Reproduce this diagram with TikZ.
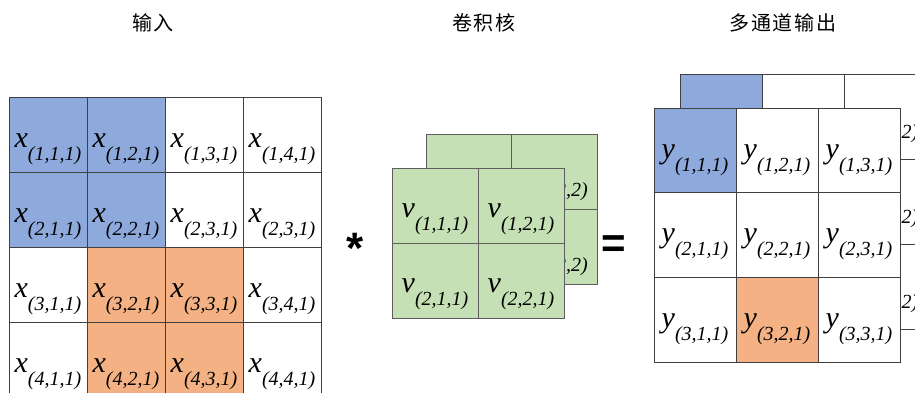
\documentclass[tikz,border=0pt]{standalone}
\usepackage{fontspec}
\setmainfont{Liberation Serif}
\newfontfamily\cjk[LetterSpace=8]{Noto Sans CJK SC}
\newfontfamily\opfont{Liberation Sans}
\definecolor{cblue}{HTML}{8EA9DB}
\definecolor{corange}{HTML}{F4B183}
\definecolor{cgreen}{HTML}{C5E0B4}
\definecolor{cline}{HTML}{404040}
\newcommand\cellt[2]{{\fontsize{30}{30}\selectfont\itshape #1\raisebox{-13pt}{\fontsize{20}{20}\selectfont (#2)}}}
\tikzset{
  gridcell/.style={draw=cline, line width=0.9pt, inner sep=0pt, outer sep=0pt, fill=white},
  incell/.style={gridcell, minimum width=78pt, minimum height=75pt},
  kcell/.style={gridcell, minimum width=86pt, minimum height=75pt, fill=cgreen, draw=cline!85},
  ocell/.style={gridcell, minimum width=82pt, minimum height=85pt},
  lbl/.style={anchor=base, inner sep=0pt},
  title/.style={font=\cjk\fontsize{20}{20}\selectfont, inner sep=0pt},
  op/.style={inner sep=0pt, anchor=base, font=\opfont\bfseries}
}
\begin{document}
\begin{tikzpicture}[x=1pt,y=-1pt]
\useasboundingbox (0,0) rectangle (915,392);
% titles
\node[title] (t1) at (153,23) {输入};
\node[title] (t2) at (484,23) {卷积核};
\node[title] (t3) at (783,23) {多通道输出};
% input grid
\foreach \r in {1,...,4}{
  \foreach \c in {1,...,4}{
    \pgfmathtruncatemacro\cc{(\r==2 && \c==4) ? 3 : \c}
    \def\fc{white}
    \ifnum\r<3 \ifnum\c<3 \def\fc{cblue}\fi\fi
    \ifnum\r>2 \ifnum\c>1 \ifnum\c<4 \def\fc{corange}\fi\fi\fi
    \node[incell, fill=\fc] (in-\r-\c) at ({48+78*(\c-1)},{134.5+75*(\r-1)}) {};
    \node[lbl] (in-\r-\c-t) at ([yshift=-50pt]in-\r-\c.north) {\cellt{x}{\r,\cc,1}};
  }
}
% kernel back
\foreach \r in {1,2}{
  \foreach \c in {1,2}{
    \node[kcell] (kb-\r-\c) at ({469+85.5*(\c-1)},{171.5+75*(\r-1)}) {};
    \node[lbl] (kb-\r-\c-t) at ([yshift=-49pt]kb-\r-\c.north) {\cellt{v}{\r,\c,2}};
  }
}
% kernel front
\foreach \r in {1,2}{
  \foreach \c in {1,2}{
    \node[kcell] (kf-\r-\c) at ({435+86*(\c-1)},{205.5+75*(\r-1)}) {};
    \node[lbl] (kf-\r-\c-t) at ([yshift=-49pt]kf-\r-\c.north) {\cellt{v}{\r,\c,1}};
  }
}
% output back
\foreach \r in {1,...,3}{
  \foreach \c in {1,...,3}{
    \def\fc{white}
    \ifnum\r=1 \ifnum\c=1 \def\fc{cblue}\fi\fi
    \node[ocell, fill=\fc] (ob-\r-\c) at ({721+82*(\c-1)},{116.5+85*(\r-1)}) {};
    \node[lbl] (ob-\r-\c-t) at ([yshift=-51pt]ob-\r-\c.north) {\cellt{y}{\r,\c,2}};
  }
}
% output front
\foreach \r in {1,...,3}{
  \foreach \c in {1,...,3}{
    \def\fc{white}
    \ifnum\r=1 \ifnum\c=1 \def\fc{cblue}\fi\fi
    \ifnum\r=3 \ifnum\c=2 \def\fc{corange}\fi\fi
    \node[ocell, fill=\fc] (of-\r-\c) at ({695+82*(\c-1)},{150.5+84.7*(\r-1)}) {};
    \node[lbl] (of-\r-\c-t) at ([yshift=-50pt]of-\r-\c.north) {\cellt{y}{\r,\c,1}};
  }
}
% operators
\node[op, font=\opfont\bfseries\fontsize{44}{44}\selectfont] (star) at (355,263) {*};
\node[op, font=\opfont\bfseries\fontsize{42}{42}\selectfont] (eq) at (614,257) {=};
\end{tikzpicture}
\end{document}
